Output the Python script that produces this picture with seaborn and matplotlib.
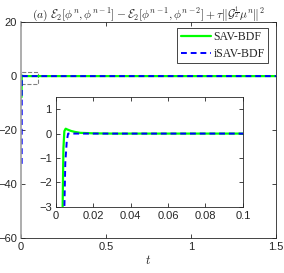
import matplotlib
matplotlib.use("Agg")
import matplotlib.pyplot as plt
from matplotlib.patches import Rectangle
import numpy as np
import seaborn as sns

# values
t_sav = [0.003, 0.0035, 0.004, 0.0045, 0.0052, 0.006, 0.008, 0.01, 0.013, 0.02, 0.03, 0.1, 0.5, 1.0, 1.5]
e_sav = [-7.8, -3.5, -0.6, 0.1, 0.2, 0.17, 0.11, 0.07, 0.03, 0.01, 0.0, 0.0, 0.0, 0.0, 0.0]
t_isav = [0.004, 0.0044, 0.005, 0.0058, 0.0065, 0.01, 0.1, 0.5, 1.0, 1.5]
e_isav = [-32.5, -3.5, -1.2, -0.3, 0.0, 0.0, 0.0, 0.0, 0.0, 0.0]

main_xticks = [0, 0.5, 1, 1.5]
main_yticks = [-60, -40, -20, 0, 20]
ins_xticks = [0, 0.02, 0.04, 0.06, 0.08, 0.1]
ins_yticks = [-3, -2, -1, 0, 1]
ins_xlim = (0, 0.1)
ins_ylim = (-3, 1.5)

sns.set_style("ticks")
plt.rcParams['font.family'] = ['Liberation Sans', 'DejaVu Sans']
plt.rcParams['mathtext.fontset'] = 'cm'
plt.rcParams['font.size'] = 8
plt.rcParams['xtick.direction'] = 'in'
plt.rcParams['ytick.direction'] = 'in'

GREEN = '#00ff00'
BLUE = '#0000ff'
EDGE = '#262626'

fig = plt.figure(figsize=(2.84, 2.73), dpi=100)
ax = fig.add_axes([0.074, 0.128, 0.898, 0.791])

sns.lineplot(x=t_sav, y=e_sav, ax=ax, color=GREEN, lw=1.6, label='SAV-BDF')
sns.lineplot(x=t_isav, y=e_isav, ax=ax, color=BLUE, lw=1.4, ls=(0, (3, 2)), label='iSAV-BDF')
ax.add_patch(Rectangle((ins_xlim[0], ins_ylim[0]), ins_xlim[1] - ins_xlim[0],
                       ins_ylim[1] - ins_ylim[0], fill=False, ec='gray', ls='--', lw=0.8))
ax.set_xlim(0, 1.5)
ax.set_ylim(-60, 20)
ax.set_xticks(main_xticks)
ax.set_xticklabels(['0', '0.5', '1', '1.5'])
ax.set_yticks(main_yticks)
ax.tick_params(top=True, right=True, length=3, width=0.6, colors=EDGE, labelsize=8, pad=3)
for s in ax.spines.values():
    s.set_linewidth(0.6)
    s.set_color(EDGE)
ax.spines['left'].set_color('#a0a0a0')
ax.spines['left'].set_linewidth(1.2)
ax.set_xlabel('$t$', fontsize=9, labelpad=1)
ax.set_title(r'$(a)\ \mathcal{E}_2[\phi^n,\phi^{n-1}]-\mathcal{E}_2[\phi^{n-1},\phi^{n-2}]+\tau\|\mathcal{G}^{\frac{1}{2}}\mu^n\|^2$',
             fontsize=8.3, pad=3)
leg = ax.legend(loc='upper right', bbox_to_anchor=(0.97, 0.975), borderaxespad=0, fancybox=False,
                framealpha=1, edgecolor=EDGE, prop={'family': 'Liberation Serif', 'size': 8.5},
                handlelength=2.6, handletextpad=0.2, borderpad=0.3, labelspacing=0.4)
leg.get_frame().set_linewidth(0.6)

ins = fig.add_axes([0.197, 0.242, 0.658, 0.403])
sns.lineplot(x=t_sav, y=e_sav, ax=ins, color=GREEN, lw=1.6)
sns.lineplot(x=t_isav, y=e_isav, ax=ins, color=BLUE, lw=1.4, ls=(0, (3, 2)))
ins.set_xlim(*ins_xlim)
ins.set_ylim(*ins_ylim)
ins.set_xticks(ins_xticks)
ins.set_xticklabels(['0', '0.02', '0.04', '0.06', '0.08', '0.1'])
ins.set_yticks(ins_yticks)
ins.tick_params(top=True, right=True, length=3, width=0.6, colors=EDGE, labelsize=8, pad=3)
for s in ins.spines.values():
    s.set_linewidth(0.6)
    s.set_color(EDGE)

fig.savefig('out.png', dpi=100)
